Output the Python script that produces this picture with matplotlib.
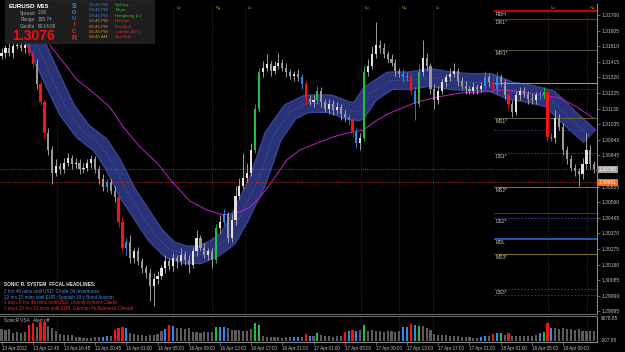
import matplotlib
matplotlib.use("Agg")
import matplotlib.pyplot as plt
import matplotlib.transforms as mtransforms
from matplotlib.patches import Rectangle
import numpy as np

plt.rcParams['font.family'] = ['Liberation Sans', 'DejaVu Sans']

# prices are kept in pips above 1.3000
BASE = 1.3
OPEN0 = 145
closes = [147, 150, 147, 151, 152, 150, 152, 147, 140, 128,
          117, 98, 88, 74, 78, 76, 80, 83, 79, 80,
          76, 77, 80, 82, 76, 70, 65, 68, 63, 59,
          44, 28, 32, 22, 26, 20, 16, 13, 5, 9,
          11, 16, 20, 17, 22, 20, 24, 21, 18, 26,
          34, 28, 24, 26, 21, 40, 44, 49, 34, 45,
          60, 66, 71, 74, 88, 113, 135, 138, 140, 136,
          139, 141, 138, 135, 133, 134, 132, 128, 119, 117,
          118, 124, 117, 113, 116, 112, 114, 110, 108, 106,
          99, 92, 95, 135, 139, 146, 152, 150, 146, 143,
          141, 136, 134, 132, 133, 124, 116, 135, 144, 139,
          125, 118, 124, 129, 132, 134, 136, 130, 127, 125,
          124, 126, 125, 127, 132, 129, 125, 132, 129, 121,
          116, 111, 121, 124, 122, 119, 118, 121, 121, 123,
          96, 95, 107, 102, 88, 82, 77, 75, 73, 79,
          88, 79, 76]
wick_hi = [3, 2, 4, 2, 3, 2, 2, 3, 2, 3,
           2, 2, 3, 2, 4, 2, 3, 3, 2, 3,
           2, 3, 2, 3, 2, 2, 3, 2, 2, 3,
           2, 3, 2, 4, 2, 3, 2, 2, 3, 4,
           3, 2, 4, 2, 3, 2, 4, 2, 3, 3,
           5, 2, 3, 2, 2, 3, 4, 3, 1, 4,
           6, 5, 15, 6, 4, 3, 3, 4, 6, 2,
           3, 6, 2, 3, 2, 2, 3, 2, 2, 2,
           3, 3, 2, 2, 3, 2, 3, 2, 2, 2,
           2, 2, 3, 4, 4, 5, 14, 3, 3, 2,
           3, 2, 2, 3, 2, 2, 2, 5, 11, 3,
           2, 3, 3, 2, 2, 4, 5, 2, 2, 3,
           2, 3, 2, 2, 4, 2, 5, 3, 2, 2,
           2, 2, 3, 2, 2, 2, 3, 2, 3, 3,
           2, 2, 5, 3, 2, 2, 3, 2, 2, 4,
           10, 3, 2]
wick_lo = [2, 3, 2, 3, 2, 2, 3, 2, 2, 3,
           2, 3, 3, 7, 2, 3, 2, 2, 3, 2,
           3, 2, 2, 3, 2, 3, 2, 3, 2, 3,
           3, 2, 4, 3, 3, 2, 3, 3, 9, 12,
           3, 2, 3, 2, 3, 4, 2, 3, 5, 2,
           3, 2, 2, 3, 5, 2, 3, 2, 3, 2,
           3, 2, 2, 3, 2, 2, 2, 3, 2, 3,
           2, 2, 2, 3, 2, 3, 2, 3, 3, 2,
           3, 2, 3, 2, 3, 3, 2, 4, 3, 3,
           3, 3, 4, 2, 2, 2, 2, 3, 2, 2,
           2, 3, 2, 3, 2, 3, 10, 2, 2, 3,
           3, 5, 2, 2, 3, 2, 2, 3, 2, 3,
           2, 2, 3, 2, 2, 3, 2, 3, 2, 3,
           3, 3, 2, 3, 2, 3, 2, 2, 3, 2,
           3, 2, 3, 2, 3, 3, 2, 3, 7, 3,
           3, 3, 2]
candle_codes = (".......rr." "rr........" ".......b.." "rrb......." ".........."
                ".....g.b.." ".....gg..." ".......br." ".g.......b" "rb.g......"
                "...bbrbg.." ".........." "....b.rb.." "r.......bg" "rb........" "...")

volumes = [2900, 2800, 2950, 2000, 2200, 1900, 2100, 3900, 4400, 3400,
           4600, 4600, 3650, 3200, 2450, 1700, 1600, 1500, 1400, 1000,
           900, 800, 850, 800, 900, 950, 1000, 1250, 1200, 2700,
           3200, 3500, 3200, 1900, 1700, 1500, 1400, 1300, 1500, 1600,
           1800, 2400, 2900, 3900, 3600, 3200, 3100, 3000, 3100, 2200,
           2100, 2000, 2100, 2200, 2300, 3400, 3400, 3400, 3200, 2700,
           2800, 2600, 2500, 2400, 2900, 4400, 3900, 1300, 1100, 1000,
           900, 900, 800, 900, 1000, 1000, 1100, 1100, 1700, 1250,
           1200, 2000, 1400, 1300, 1200, 1100, 1200, 1300, 2200, 2450,
           2700, 2450, 2600, 3900, 2500, 2600, 2400, 2500, 2300, 2400,
           2500, 2300, 2400, 3400, 3400, 4150, 3900, 3650, 3600, 3200,
           2700, 1800, 1600, 1500, 1400, 1300, 1200, 1300, 1100, 1000,
           900, 800, 750, 1000, 1250, 1300, 1700, 1950, 1950, 1500,
           1950, 1300, 1200, 1250, 1200, 1300, 1250, 1400, 1950, 2200,
           4400, 3200, 3100, 3000, 3200, 2900, 3000, 2800, 2900, 2500,
           2400, 2500, 2400]
volume_codes = (".......rr." "rr........" "......bb.r" "rrb......." "..brb....."
                ".....gbb.." ".....gg..." ".....bb.rb" ".g......rb" "rb.g......"
                "...bbrbg.." ".........." "...bb.rbg." "r.......bg" "rb........" "...")
VOL_MIN, VOL_MAX = -207.85, 6078.85

# SonicR dragon band centre and the slow EMA (bar index, pips)
band_x = [6.0, 9.4, 13.2, 16.8, 20.9, 25.3, 28.6, 32.2, 35.5, 39.4, 43.2, 47.1,
          50.9, 54.7, 58.1, 61.2, 65.5, 67.6, 69.6, 74.0, 78.3, 84.2, 88.6, 91.4,
          94.5, 99.6, 104.7, 109.9, 115.0, 120.1, 125.3, 130.4, 135.5, 140.6, 145.8, 150.9]
band_mid = [164, 150, 130, 112, 99, 91, 79, 62, 50, 36, 27, 24,
            24, 28, 34, 47, 68, 82, 96, 111, 116, 116, 112, 111,
            122, 130, 130, 132, 130, 129, 129, 124, 122, 119, 107, 96]
ema_x = [12.4, 19.4, 22.7, 27.8, 31.2, 35.5, 39.9, 44.0, 48.3, 52.7, 56.8, 60.4,
         63.7, 66.3, 69.6, 73.2, 76.5, 80.9, 85.0, 88.6, 92.7, 96.3, 99.6, 106.5,
         111.7, 117.6, 123.5, 128.6, 133.7, 138.9, 143.2, 147.6, 151.7]
ema_y = [151.7, 130.4, 124.3, 113.9, 101.8, 89.6, 79.8, 67.7, 56.7, 51.2, 48.2, 49.4,
         53.0, 59.1, 69.5, 81.7, 87.8, 92.0, 95.7, 98.1, 99.9, 106.0, 110.3, 117.0,
         120.0, 122.5, 123.1, 124.3, 123.1, 121.2, 119.4, 113.9, 107.2]

# pivot levels: name, pips, colour, linestyle, width
levels = [("RDH", 172.7, "#ff0000", "-", 1.1),
          ("DR1*", 167.7, "#d00000", "-", 0.8),
          ("MR1*", 148.7, "#5f6a30", "-", 0.6),
          ("", 128.6, "#a0a070", "-", 0.7),
          ("", 124.9, "#3a3aa8", (0, (2, 2)), 0.6),
          ("MS1*", 107.3, "#767432", "-", 0.6),
          ("", 100.0, "#3a3aa8", (0, (2, 2)), 0.6),
          ("DS1*", 86.0, "#4646b8", (0, (2, 2)), 0.6),
          ("MS2*", 65.3, "#807a34", "-", 0.7),
          ("", 49.4, "#3e3e22", "-", 0.7),
          ("DS2*", 46.4, "#4646b8", (0, (2, 2)), 0.6),
          ("RDL", 33.6, "#2266dd", "-", 1.2),
          ("MS3*", 24.5, "#80652e", "-", 0.8),
          ("DS3*", 3.1, "#4646b8", (0, (2, 2)), 0.6),
          ("", -0.5, "#404040", (0, (2, 2)), 0.6)]
BID = 1.30760
ORANGE_LEVEL = 1.30681

sessions_x = [14.2, 44.0, 54.0, 62.4, 92.2, 101.9, 110.6, 140.1, 150.1]
sessions_lbl = ["", "Lo", "Ny", "Lc", "Lo", "Ny", "Lc", "Lo", "Ny"]

time_labels = ["13 Apr 2012", "13 Apr 12:45", "13 Apr 16:45", "13 Apr 20:45",
               "16 Apr 01:00", "16 Apr 05:00", "16 Apr 09:00", "16 Apr 13:00",
               "16 Apr 17:00", "16 Apr 21:00", "17 Apr 01:00", "17 Apr 05:00",
               "17 Apr 09:00", "17 Apr 13:00", "17 Apr 17:00", "17 Apr 21:00",
               "18 Apr 01:00", "18 Apr 05:00", "18 Apr 09:00"]

clock_times = ["10:45 PM", "09:45 PM", "08:45 PM", "02:45 PM", "02:45 PM", "01:45 PM", "08:45 AM"]
clock_cities = ["Sydney", "Tokyo", "Hongkong (L)", "Helsinki", "Frankfurt", "London (BrT)", "NewYork"]
headlines = [("2 hrs 46 mins until USD: Crude Oil Inventories", "#4a8fe6"),
             ("22 hrs 15 mins until EUR: Spanish 10-y Bond Auction", "#4a8fe6"),
             ("1 days 8 hrs 46 mins until USD: Unemployment Claims", "#ff2020"),
             ("1 days 20 hrs 15 mins until EUR: German Ifo Business Climate", "#ff2020")]

W, H = 625, 352
fig = plt.figure(figsize=(W / 100, H / 100), dpi=100, facecolor="black")


def frame(x0, y0, x1, y1):
    return [x0 / W, 1 - y1 / H, (x1 - x0) / W, (y1 - y0) / H]


ax = fig.add_axes(frame(0, 4, 597, 314))
axv = fig.add_axes(frame(0, 316, 597, 342))
for a in (ax, axv):
    a.set_facecolor("black")
    for s in a.spines.values():
        s.set_visible(False)
    a.spines["right"].set_visible(True)
    a.spines["right"].set_color("#8a8a8a")
    a.spines["right"].set_linewidth(0.8)
ax.spines["bottom"].set_visible(True)
ax.spines["bottom"].set_color("#6a6a6a")
axv.spines["top"].set_visible(True)
axv.spines["top"].set_color("#6a6a6a")
axv.spines["bottom"].set_visible(True)
axv.spines["bottom"].set_color("#8a8a8a")

XMIN, XMAX = -0.4, 152.7
n = len(closes)
idx = np.arange(n)

# ---- price panel ----
c = BASE + np.array(closes) / 1e4
o = BASE + np.array([OPEN0] + closes[:-1]) / 1e4
top = np.maximum(o, c)
bot = np.minimum(o, c)
hi = top + np.array(wick_hi) / 1e4
lo = bot - np.array(wick_lo) / 1e4
vsa = {"r": "#ff1010", "g": "#1fc040", "b": "#2a8cf0"}
body_col, wick_col = [], []
for i in range(n):
    k = candle_codes[i]
    if k in vsa:
        body_col.append(vsa[k])
        wick_col.append(vsa[k])
    else:
        body_col.append("#e2e2e2" if c[i] >= o[i] else "#9a9a9a")
        wick_col.append("#b4b4b4")

bx = np.array(band_x)
by = BASE + np.array(band_mid) / 1e4
ax.plot(bx, by, color="#3a4590", lw=13.5, solid_capstyle="butt", solid_joinstyle="round", zorder=2)
ax.plot(bx, by, color="#2a3278", lw=11.5, solid_capstyle="butt", solid_joinstyle="round", zorder=2)
ax.plot(bx, by, color="#7c82b8", lw=0.4, ls=(0, (1, 2)), zorder=2)
ax.plot(ema_x, BASE + np.array(ema_y) / 1e4, color="#c020c8", lw=0.7, zorder=3)

ax.vlines(idx, lo, hi, colors=wick_col, lw=0.6, zorder=4)
ax.bar(idx, np.maximum(top - bot, 0.00002), bottom=bot, width=0.55, color=body_col, lw=0, zorder=5)

for sx, sl in zip(sessions_x, sessions_lbl):
    for a in (ax, axv):
        a.axvline(sx, color="#3c3c3c", lw=0.6, ls=(0, (1, 2)), zorder=1)
    if sl:
        ax.text(sx + 0.8, 1.31745, sl, color="#9a9a40", fontsize=3.2, va="center", ha="left")

LEVEL_START = 126.3
for name, pip, col, ls, lw in levels:
    ax.hlines(BASE + pip / 1e4, LEVEL_START, XMAX, colors=col, linestyles=ls, lw=lw, zorder=3)
    if name:
        ax.text(LEVEL_START + 0.5, BASE + (pip - 0.8) / 1e4, name, color="#c8c8c8",
                fontsize=3.6, va="top", ha="left", zorder=6)

ax.axhline(BID, color="#6e6e52", lw=0.6, ls=(0, (1, 1.5)), zorder=3)
ax.axhline(ORANGE_LEVEL, color="#d03412", lw=0.7, ls=(0, (1, 1.5)), zorder=3)
ax.plot([152.95], [BID - 0.00002], "o", color="#ff1010", ms=2.2, clip_on=False, zorder=8)

ax.set_xlim(XMIN, XMAX)
ax.set_ylim(BASE - 12.1 / 1e4, BASE + 176.7 / 1e4)
ax.tick_params(axis="x", bottom=False, labelbottom=False)
ax.yaxis.tick_right()
ticks = np.round(1.317 - 0.00095 * np.arange(20), 5)
ticks = [t for t in ticks if abs(t - BID) > 0.0003]  # hidden under the bid box
ax.set_yticks(ticks)
ax.set_yticklabels([f"{t:.5f}" for t in ticks])
ax.tick_params(axis="y", colors="#8a8a8a", labelcolor="#bdbdbd", labelsize=3.6, length=2, width=0.5, pad=1.5)

blend = mtransforms.blended_transform_factory(ax.transAxes, ax.transData)
ax.text(1.003, BID, f"{BID:.5f}", transform=blend, fontsize=3.6, color="white", va="center", ha="left",
        bbox=dict(fc="#a2a2a2", ec="none", pad=0.8), zorder=20)
ax.text(1.003, ORANGE_LEVEL, f"{ORANGE_LEVEL:.5f}", transform=blend, fontsize=3.6, color="white",
        va="center", ha="left", bbox=dict(fc="#ff6a10", ec="none", pad=0.8), zorder=20)

# ---- volume panel ----
vcol = [vsa.get(k, "#5c5c5c") for k in volume_codes]
axv.bar(idx, volumes, width=0.55, color=vcol, lw=0, zorder=3)
axv.set_xlim(XMIN, XMAX)
axv.set_ylim(VOL_MIN, VOL_MAX)
axv.set_yticks([])
tick_pos = [8 * k for k in range(len(time_labels))]
axv.set_xticks(tick_pos)
axv.set_xticklabels(time_labels, ha="left")
axv.tick_params(axis="x", colors="#8a8a8a", labelcolor="#c4c4c4", labelsize=3.3, length=2, width=0.5, pad=1)

# ---- overlay texts ----
ov = fig.add_axes([0, 0, 1, 1], zorder=10)
ov.set_xlim(0, W)
ov.set_ylim(H, 0)
ov.axis("off")
ov.patch.set_alpha(0)

ov.add_patch(Rectangle((5, 0), 149, 43, facecolor="#1e1e1e", edgecolor="#2c2c2c", lw=0.5))
ov.text(9, 6, "EURUSD", color="white", fontsize=4.6, fontweight="bold", va="center")
ov.text(37, 6, "M15", color="white", fontsize=4.6, fontweight="bold", va="center")
for y, lab, val in [(13, "Spread", "2.80"), (19.5, "Range", "105.74"), (26, "Candle", "00:14:08")]:
    ov.text(35, y, lab, color="#a8a8a8", fontsize=3.4, va="center", ha="right")
    ov.text(38, y, val, color="#a8a8a8", fontsize=3.4, va="center", ha="left")
ov.text(12, 35.5, "1.3076", color="#ff0a0a", fontsize=10, fontweight="bold", va="center")

for y, ch, col in [(6, "S", "#2f93ff"), (12.5, "O", "#2f93ff"), (19, "N", "#2266cc"),
                   (25, "I", "#ff2020"), (31.5, "C", "#ff2020"), (38, "R", "#ff2020")]:
    ov.text(74, y, ch, color=col, fontsize=5 if ch in "SR" else 4, fontweight="bold", va="center", ha="center")
for k, (t, city) in enumerate(zip(clock_times, clock_cities)):
    y = 5 + 5.4 * k
    ov.text(89, y, t, color="#3a7bd5" if k < 3 else "#e08a20", fontsize=3.2, va="center")
    ov.text(115, y, city, color="#34b834" if k < 3 else "#e02a2a", fontsize=3.2, va="center")

ov.text(4, 284, "SONIC R. SYSTEM  FFCAL HEADLINES:", color="#e6e6e6", fontsize=3.4, fontweight="bold", va="center")
for k, (txt, col) in enumerate(headlines):
    ov.text(4, 291.7 + 5.5 * k, txt, color=col, fontsize=3.3, va="center")

ov.text(4, 320, "SonicR VSA   Alert off", color="#bcbcbc", fontsize=3.3, va="center")
ov.text(601, 319, f"{VOL_MAX:.2f}", color="#bdbdbd", fontsize=3.4, va="center")
ov.text(601, 340, f"{VOL_MIN:.2f}", color="#bdbdbd", fontsize=3.4, va="center")

fig.savefig("out.png", dpi=100, facecolor="black")
